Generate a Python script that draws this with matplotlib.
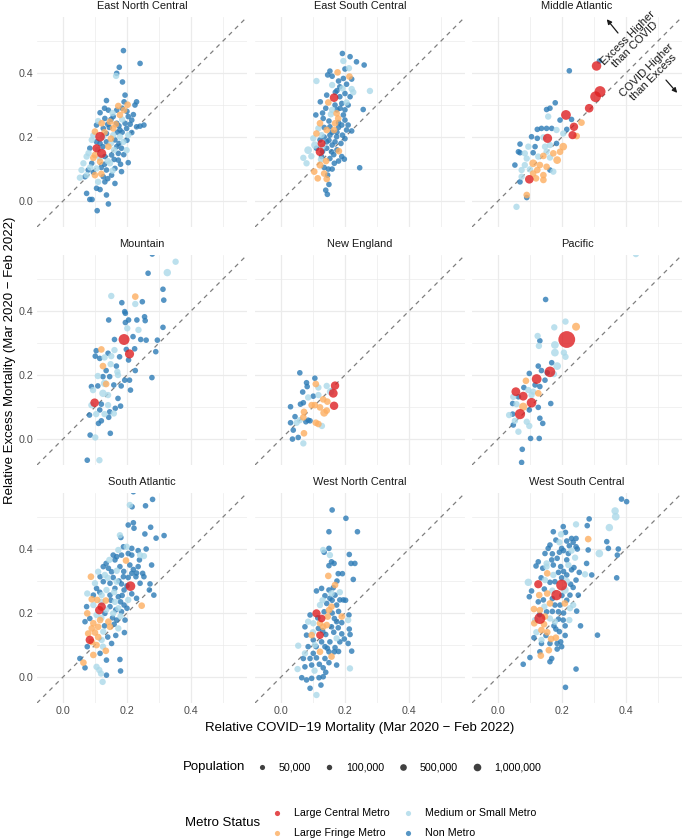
import matplotlib.pyplot as plt
import numpy as np

plt.rcParams['font.family'] = ['Liberation Sans', 'DejaVu Sans']

regions = ['East North Central', 'East South Central', 'Middle Atlantic',
           'Mountain', 'New England', 'Pacific',
           'South Atlantic', 'West North Central', 'West South Central']

metro_codes = ['C', 'F', 'S', 'N']
metro_names = {'C': 'Large Central Metro', 'F': 'Large Fringe Metro',
               'S': 'Medium or Small Metro', 'N': 'Non Metro'}
metro_colors = {'C': '#DE1F22', 'F': '#FDAE61', 'S': '#ABD9E9', 'N': '#2C7BB6'}
# population in thousands used when a point has no own value
default_pop = {'C': 800, 'F': 180, 'S': 120, 'N': 20}

legend_pops = [50000, 100000, 500000, 1000000]
legend_pop_labels = ['50,000', '100,000', '500,000', '1,000,000']

# (relative covid mortality, relative excess mortality, metro status[, population in thousands])
enc = [(0.189, 0.470, 'N'), (0.241, 0.430, 'N'), (0.176, 0.418, 'N'), (0.168, 0.399, 'N'),
       (0.166, 0.391, 'S'), (0.186, 0.372, 'N'), (0.194, 0.331, 'N'), (0.136, 0.314, 'N'),
       (0.191, 0.310, 'N'), (0.230, 0.310, 'N'), (0.225, 0.300, 'N'), (0.202, 0.301, 'F'),
       (0.173, 0.297, 'F'), (0.142, 0.284, 'N'), (0.168, 0.284, 'N'), (0.191, 0.284, 'F'),
       (0.116, 0.276, 'N'), (0.131, 0.258, 'N'), (0.157, 0.264, 'N'), (0.178, 0.269, 'F'),
       (0.204, 0.264, 'N'), (0.215, 0.253, 'N'), (0.121, 0.243, 'F'), (0.147, 0.248, 'F'),
       (0.168, 0.243, 'N'), (0.194, 0.243, 'N'), (0.105, 0.2375, 'N'), (0.126, 0.227, 'N'),
       (0.157, 0.227, 'F'), (0.178, 0.222, 'N'), (0.199, 0.227, 'N'), (0.241, 0.234, 'N'),
       (0.253, 0.2375, 'N'), (0.230, 0.232, 'N'), (0.215, 0.214, 'N'), (0.100, 0.217, 'F'),
       (0.136, 0.211, 'N'), (0.157, 0.206, 'S'), (0.178, 0.201, 'S'), (0.204, 0.206, 'S'),
       (0.090, 0.191, 'S'), (0.116, 0.180, 'N'), (0.136, 0.185, 'N'), (0.1625, 0.191, 'N'),
       (0.189, 0.185, 'S'), (0.084, 0.165, 'N'), (0.142, 0.170, 'F'), (0.168, 0.170, 'N'),
       (0.183, 0.165, 'N'), (0.100, 0.144, 'F'), (0.131, 0.139, 'N'), (0.152, 0.144, 'N'),
       (0.173, 0.149, 'N'), (0.199, 0.159, 'S'), (0.074, 0.139, 'S'), (0.064, 0.118, 'S'),
       (0.090, 0.118, 'N'), (0.116, 0.123, 'F'), (0.147, 0.118, 'S'), (0.173, 0.128, 'N'),
       (0.204, 0.120, 'N'), (0.058, 0.097, 'S'), (0.079, 0.097, 'N'), (0.105, 0.102, 'S'),
       (0.136, 0.097, 'N'), (0.1625, 0.102, 'N'), (0.074, 0.081, 'S'), (0.100, 0.081, 'F'),
       (0.126, 0.076, 'N'), (0.152, 0.081, 'N'), (0.053, 0.073, 'S'), (0.069, 0.076, 'N'),
       (0.110, 0.060, 'S'), (0.131, 0.060, 'N'), (0.1625, 0.055, 'N'), (0.183, 0.092, 'N'),
       (0.105, 0.040, 'N'), (0.116, 0.036, 'N'), (0.136, 0.019, 'N'), (0.074, 0.024, 'N'),
       (0.084, 0.005, 'N'), (0.091, 0.005, 'N'), (0.107, -0.030, 'N'), (0.142, -0.009, 'N'),
       (0.150, 0.255, 'N'), (0.185, 0.255, 'S'), (0.125, 0.200, 'S'), (0.150, 0.195, 'F'),
       (0.170, 0.215, 'N'), (0.110, 0.160, 'S'), (0.160, 0.160, 'S'), (0.140, 0.125, 'S'),
       (0.120, 0.105, 'N'), (0.095, 0.135, 'F'), (0.180, 0.115, 'N'), (0.145, 0.230, 'N'),
       (0.130, 0.290, 'N'), (0.155, 0.275, 'S'), (0.185, 0.290, 'N'), (0.110, 0.250, 'S'),
       (0.140, 0.240, 'N'), (0.175, 0.235, 'N'), (0.210, 0.240, 'N'), (0.095, 0.205, 'S'),
       (0.130, 0.215, 'F'), (0.185, 0.215, 'N'), (0.200, 0.190, 'N'), (0.105, 0.185, 'N'),
       (0.150, 0.180, 'S'), (0.175, 0.180, 'N'), (0.125, 0.170, 'N'), (0.190, 0.145, 'N'),
       (0.080, 0.150, 'S'), (0.115, 0.135, 'S'), (0.160, 0.130, 'N'), (0.085, 0.105, 'S'),
       (0.130, 0.115, 'N'), (0.155, 0.095, 'S'), (0.095, 0.090, 'N'), (0.140, 0.070, 'N'),
       (0.120, 0.085, 'F'), (0.165, 0.240, 'F'), (0.200, 0.280, 'N'), (0.220, 0.270, 'N'),
       (0.116, 0.201, 'C', 1500), (0.105, 0.165, 'C', 700), (0.121, 0.149, 'C', 1200)]

esc = [(0.192, 0.461, 'N'), (0.216, 0.451, 'N'), (0.195, 0.4375, 'S'), (0.236, 0.435, 'N'),
       (0.260, 0.425, 'N'), (0.153, 0.406, 'N'), (0.177, 0.402, 'F'), (0.200, 0.4125, 'N'),
       (0.2125, 0.415, 'S'), (0.146, 0.394, 'N'), (0.214, 0.389, 'F'), (0.195, 0.383, 'N'),
       (0.221, 0.381, 'N'), (0.111, 0.375, 'S'), (0.160, 0.3625, 'S'), (0.184, 0.357, 'N'),
       (0.192, 0.352, 'S'), (0.221, 0.350, 'S'), (0.226, 0.340, 'S'), (0.278, 0.344, 'S'),
       (0.200, 0.336, 'N'), (0.143, 0.331, 'N'), (0.184, 0.326, 'N'), (0.216, 0.326, 'N'),
       (0.123, 0.310, 'N'), (0.148, 0.308, 'F'), (0.169, 0.300, 'N'), (0.190, 0.305, 'N'),
       (0.205, 0.308, 'S'), (0.257, 0.286, 'N'), (0.140, 0.290, 'N'), (0.174, 0.274, 'F'),
       (0.109, 0.269, 'N'), (0.156, 0.271, 'S'), (0.195, 0.269, 'N'), (0.132, 0.258, 'N'),
       (0.179, 0.258, 'F'), (0.200, 0.253, 'N'), (0.122, 0.243, 'F'), (0.169, 0.243, 'F'),
       (0.153, 0.232, 'N'), (0.190, 0.2375, 'N'), (0.210, 0.2375, 'N'), (0.117, 0.227, 'S'),
       (0.143, 0.222, 'F'), (0.166, 0.222, 'F'), (0.205, 0.222, 'N'), (0.221, 0.219, 'N'),
       (0.111, 0.211, 'F'), (0.127, 0.206, 'S'), (0.153, 0.206, 'N'), (0.174, 0.201, 'N'),
       (0.192, 0.206, 'N'), (0.101, 0.196, 'S'), (0.122, 0.191, 'N'), (0.143, 0.185, 'N'),
       (0.169, 0.185, 'N'), (0.1875, 0.180, 'N'), (0.111, 0.165, 'N'), (0.143, 0.165, 'N'),
       (0.158, 0.154, 'N'), (0.181, 0.156, 'F'), (0.070, 0.135, 'S'), (0.127, 0.139, 'N'),
       (0.153, 0.133, 'N'), (0.190, 0.139, 'N'), (0.198, 0.131, 'N'), (0.080, 0.118, 'S'),
       (0.141, 0.125, 'F'), (0.1667, 0.118, 'N'), (0.104, 0.092, 'F'), (0.135, 0.086, 'F'),
       (0.148, 0.100, 'N'), (0.146, 0.081, 'N'), (0.115, 0.071, 'F'), (0.143, 0.069, 'F'),
       (0.246, 0.104, 'N'), (0.150, 0.052, 'N'), (0.140, 0.034, 'N'), (0.145, 0.021, 'N'),
       (0.175, 0.285, 'N'), (0.160, 0.215, 'N'), (0.180, 0.230, 'N'), (0.135, 0.200, 'N'),
       (0.160, 0.175, 'N'), (0.175, 0.160, 'N'), (0.130, 0.155, 'N'), (0.175, 0.345, 'N'),
       (0.160, 0.390, 'N'), (0.180, 0.375, 'N'), (0.205, 0.365, 'N'), (0.170, 0.340, 'N'),
       (0.210, 0.300, 'N'), (0.185, 0.290, 'N'), (0.160, 0.285, 'S'), (0.130, 0.275, 'N'),
       (0.200, 0.285, 'N'), (0.150, 0.250, 'N'), (0.180, 0.245, 'N'), (0.135, 0.230, 'N'),
       (0.175, 0.215, 'N'), (0.200, 0.195, 'N'), (0.150, 0.190, 'N'), (0.130, 0.170, 'S'),
       (0.165, 0.145, 'N'), (0.180, 0.125, 'N'), (0.135, 0.105, 'N'), (0.160, 0.100, 'N'),
       (0.125, 0.130, 'S'), (0.095, 0.140, 'S'),
       (0.106, 0.175, 'S', 400), (0.085, 0.159, 'S', 500), (0.122, 0.1125, 'F', 300),
       (0.166, 0.323, 'C', 900), (0.127, 0.180, 'C', 600), (0.122, 0.154, 'C', 900)]

mid_atlantic = [(0.317, 0.4375, 'N'), (0.223, 0.407, 'N'), (0.179, 0.307, 'N'), (0.1625, 0.290, 'N'),
                (0.152, 0.286, 'N'), (0.157, 0.264, 'S'), (0.194, 0.253, 'N'), (0.230, 0.255, 'N'),
                (0.261, 0.245, 'F'), (0.168, 0.227, 'N'), (0.152, 0.227, 'N'), (0.136, 0.227, 'N'),
                (0.123, 0.224, 'N'), (0.183, 0.222, 'S'), (0.215, 0.224, 'N'), (0.204, 0.211, 'S'),
                (0.246, 0.203, 'F'), (0.105, 0.201, 'N'), (0.123, 0.196, 'N'), (0.142, 0.199, 'S'),
                (0.069, 0.178, 'N'), (0.095, 0.170, 'S'), (0.116, 0.170, 'N'), (0.183, 0.180, 'N'),
                (0.1625, 0.175, 'S'), (0.147, 0.170, 'S'), (0.064, 0.154, 'N'), (0.069, 0.151, 'N'),
                (0.084, 0.149, 'S'), (0.110, 0.151, 'N'), (0.152, 0.154, 'S'), (0.173, 0.149, 'F'),
                (0.194, 0.154, 'F'), (0.090, 0.133, 'S'), (0.126, 0.139, 'S'), (0.142, 0.141, 'F'),
                (0.1625, 0.136, 'S'), (0.053, 0.1125, 'N'), (0.084, 0.1125, 'S'), (0.131, 0.1125, 'F'),
                (0.152, 0.107, 'F'), (0.074, 0.097, 'S'), (0.100, 0.099, 'S'), (0.123, 0.097, 'F'),
                (0.1625, 0.097, 'N'), (0.173, 0.092, 'S'), (0.074, 0.076, 'S'), (0.110, 0.086, 'F'),
                (0.142, 0.081, 'F'), (0.119, 0.071, 'F'), (0.142, 0.066, 'F'), (0.069, 0.060, 'N'),
                (0.090, 0.019, 'F'), (0.090, 0.011, 'N'), (0.058, -0.018, 'S'),
                (0.204, 0.170, 'F', 500), (0.185, 0.128, 'F', 500), (0.110, 0.118, 'F', 500),
                (0.308, 0.422, 'C', 1400), (0.319, 0.342, 'C', 2500), (0.305, 0.326, 'C', 2300),
                (0.285, 0.290, 'C', 900), (0.2125, 0.269, 'C', 1600), (0.2375, 0.232, 'C', 800),
                (0.233, 0.206, 'C', 700), (0.155, 0.196, 'C', 1200), (0.098, 0.068, 'C', 900)]

mountain = [(0.279, 0.578, 'N'), (0.352, 0.554, 'S'), (0.266, 0.518, 'N'), (0.3125, 0.468, 'N'),
            (0.315, 0.434, 'N'), (0.151, 0.447, 'S'), (0.226, 0.445, 'F'), (0.226, 0.422, 'S'),
            (0.248, 0.429, 'N'), (0.184, 0.426, 'N'), (0.193, 0.398, 'N'), (0.195, 0.393, 'N'),
            (0.143, 0.372, 'N'), (0.195, 0.364, 'N'), (0.205, 0.372, 'N'), (0.231, 0.372, 'N'),
            (0.255, 0.382, 'N'), (0.257, 0.370, 'N'), (0.201, 0.346, 'S'), (0.236, 0.341, 'S'),
            (0.3125, 0.349, 'N'), (0.161, 0.311, 'N'), (0.219, 0.320, 'N'), (0.243, 0.311, 'N'),
            (0.260, 0.309, 'N'), (0.295, 0.309, 'N'), (0.120, 0.280, 'F'), (0.104, 0.276, 'N'),
            (0.141, 0.268, 'N'), (0.161, 0.278, 'S'), (0.224, 0.282, 'N'), (0.198, 0.280, 'N'),
            (0.290, 0.273, 'N'), (0.101, 0.259, 'N'), (0.115, 0.252, 'N'), (0.130, 0.255, 'S'),
            (0.151, 0.259, 'S'), (0.177, 0.257, 'N'), (0.125, 0.228, 'F'), (0.149, 0.234, 'S'),
            (0.167, 0.228, 'N'), (0.205, 0.247, 'N'), (0.135, 0.214, 'N'), (0.170, 0.210, 'S'),
            (0.226, 0.214, 'N'), (0.109, 0.197, 'S'), (0.125, 0.195, 'N'), (0.146, 0.195, 'N'),
            (0.172, 0.200, 'S'), (0.193, 0.184, 'N'), (0.278, 0.192, 'N'), (0.135, 0.172, 'F'),
            (0.089, 0.164, 'N'), (0.109, 0.166, 'N'), (0.159, 0.169, 'N'), (0.182, 0.166, 'N'),
            (0.208, 0.184, 'N'), (0.211, 0.153, 'N'), (0.141, 0.1375, 'S'), (0.172, 0.127, 'N'),
            (0.094, 0.153, 'S'), (0.089, 0.106, 'S'), (0.120, 0.109, 'N'), (0.141, 0.106, 'S'),
            (0.1635, 0.096, 'N'), (0.180, 0.103, 'N'), (0.115, 0.091, 'N'), (0.130, 0.078, 'S'),
            (0.146, 0.085, 'N'), (0.159, 0.080, 'S'), (0.083, 0.075, 'N'), (0.104, 0.078, 'S'),
            (0.143, 0.068, 'N'), (0.111, 0.049, 'N'), (0.120, 0.057, 'N'), (0.085, 0.0125, 'N'),
            (0.101, 0.005, 'S'), (0.148, 0.018, 'N'), (0.076, -0.066, 'N'), (0.114, -0.066, 'S'),
            (0.326, 0.520, 'S', 400), (0.130, 0.174, 'S', 400), (0.125, 0.143, 'S', 400),
            (0.191, 0.311, 'C', 2500), (0.208, 0.266, 'C', 1200), (0.099, 0.1135, 'C', 900)]

new_england = [(0.059, 0.207, 'N'), (0.106, 0.190, 'N'), (0.080, 0.176, 'N'), (0.109, 0.172, 'F'),
               (0.082, 0.164, 'N'), (0.143, 0.166, 'S'), (0.117, 0.161, 'S'), (0.068, 0.147, 'N'),
               (0.101, 0.134, 'N'), (0.117, 0.1375, 'S'), (0.085, 0.130, 'S'), (0.132, 0.124, 'F'),
               (0.145, 0.117, 'F'), (0.070, 0.1135, 'N'), (0.061, 0.109, 'N'), (0.096, 0.106, 'F'),
               (0.106, 0.106, 'F'), (0.030, 0.101, 'N'), (0.122, 0.099, 'F'), (0.143, 0.089, 'F'),
               (0.072, 0.085, 'F'), (0.044, 0.070, 'N'), (0.070, 0.068, 'F'), (0.059, 0.059, 'S'),
               (0.085, 0.059, 'N'), (0.078, 0.054, 'N'), (0.091, 0.057, 'N'), (0.030, 0.051, 'N'),
               (0.049, 0.051, 'S'), (0.109, 0.051, 'F'), (0.117, 0.047, 'F'), (0.128, 0.041, 'S'),
               (0.0385, 0.028, 'N'), (0.072, 0.018, 'F'), (0.036, 0.000, 'N'), (0.054, 0.005, 'N'),
               (0.070, -0.0135, 'S'),
               (0.155, 0.148, 'S', 400), (0.135, 0.082, 'F', 500),
               (0.169, 0.167, 'C', 800), (0.1635, 0.143, 'C', 1000), (0.166, 0.104, 'C', 800)]

pacific = [(0.431, 0.578, 'S'), (0.149, 0.436, 'N'), (0.211, 0.367, 'S'), (0.176, 0.349, 'S'),
           (0.124, 0.322, 'S'), (0.131, 0.307, 'N'), (0.128, 0.291, 'S'), (0.206, 0.270, 'S'),
           (0.211, 0.257, 'S'), (0.168, 0.2385, 'N'), (0.126, 0.228, 'N'), (0.136, 0.214, 'N'),
           (0.154, 0.207, 'N'), (0.175, 0.203, 'S'), (0.098, 0.205, 'N'), (0.147, 0.184, 'N'),
           (0.0875, 0.182, 'F'), (0.116, 0.169, 'N'), (0.131, 0.164, 'N'), (0.081, 0.161, 'N'),
           (0.095, 0.153, 'S'), (0.110, 0.148, 'S'), (0.105, 0.1375, 'S'), (0.126, 0.143, 'F'),
           (0.048, 0.132, 'S'), (0.064, 0.132, 'N'), (0.046, 0.111, 'N'), (0.058, 0.109, 'S'),
           (0.165, 0.111, 'N'), (0.098, 0.091, 'N'), (0.126, 0.099, 'N'), (0.035, 0.075, 'S'),
           (0.046, 0.078, 'N'), (0.131, 0.065, 'N'), (0.053, 0.057, 'S'), (0.090, 0.054, 'S'),
           (0.140, 0.049, 'N'), (0.048, 0.044, 'N'), (0.098, 0.041, 'S'), (0.064, 0.023, 'S'),
           (0.102, 0.002, 'N'), (0.129, 0.002, 'N'), (0.076, -0.032, 'N'), (0.074, -0.073, 'N'),
           (0.178, 0.294, 'S', 500), (0.178, 0.270, 'S', 500), (0.185, 0.228, 'S', 500),
           (0.244, 0.351, 'F', 600), (0.079, 0.101, 'F', 700),
           (0.215, 0.311, 'C', 10000), (0.1625, 0.210, 'C', 2200), (0.121, 0.1875, 'C', 1600),
           (0.056, 0.148, 'C', 1000), (0.079, 0.134, 'C', 1000), (0.105, 0.1135, 'C', 1500),
           (0.069, 0.078, 'C', 1900)]

south_atlantic = [(0.220, 0.579, 'N'), (0.280, 0.555, 'N'), (0.209, 0.5375, 'S'), (0.216, 0.532, 'N'),
                  (0.258, 0.535, 'N'), (0.220, 0.482, 'N'), (0.204, 0.475, 'N'), (0.222, 0.465, 'N'),
                  (0.274, 0.468, 'N'), (0.256, 0.447, 'N'), (0.291, 0.434, 'N'), (0.316, 0.442, 'N'),
                  (0.178, 0.443, 'S'), (0.181, 0.436, 'N'), (0.189, 0.407, 'N'), (0.199, 0.407, 'S'),
                  (0.215, 0.402, 'N'), (0.173, 0.397, 'S'), (0.241, 0.381, 'S'), (0.253, 0.378, 'S'),
                  (0.239, 0.366, 'N'), (0.277, 0.350, 'N'), (0.157, 0.381, 'N'), (0.168, 0.376, 'N'),
                  (0.183, 0.381, 'N'), (0.204, 0.386, 'N'), (0.215, 0.381, 'N'), (0.145, 0.366, 'S'),
                  (0.1625, 0.366, 'N'), (0.197, 0.364, 'F'), (0.209, 0.350, 'N'), (0.126, 0.345, 'N'),
                  (0.142, 0.340, 'N'), (0.178, 0.345, 'N'), (0.220, 0.336, 'N'), (0.235, 0.345, 'N'),
                  (0.110, 0.329, 'S'), (0.152, 0.329, 'N'), (0.168, 0.332, 'S'), (0.215, 0.324, 'N'),
                  (0.249, 0.324, 'N'), (0.0875, 0.3135, 'F'), (0.116, 0.3135, 'N'), (0.131, 0.319, 'S'),
                  (0.157, 0.311, 'N'), (0.189, 0.3135, 'N'), (0.204, 0.311, 'N'), (0.228, 0.3135, 'N'),
                  (0.253, 0.3135, 'N'), (0.100, 0.293, 'S'), (0.126, 0.298, 'N'), (0.147, 0.293, 'N'),
                  (0.168, 0.298, 'S'), (0.183, 0.291, 'N'), (0.241, 0.293, 'N'), (0.272, 0.291, 'N'),
                  (0.270, 0.272, 'N'), (0.284, 0.256, 'N'), (0.105, 0.277, 'N'), (0.136, 0.272, 'S'),
                  (0.1625, 0.277, 'N'), (0.191, 0.272, 'N'), (0.076, 0.261, 'S'), (0.095, 0.256, 'N'),
                  (0.121, 0.256, 'S'), (0.147, 0.256, 'N'), (0.173, 0.251, 'N'), (0.230, 0.246, 'N'),
                  (0.204, 0.241, 'S'), (0.090, 0.243, 'F'), (0.107, 0.241, 'F'), (0.134, 0.239, 'F'),
                  (0.1625, 0.235, 'S'), (0.246, 0.223, 'F'), (0.074, 0.220, 'N'), (0.095, 0.225, 'S'),
                  (0.147, 0.220, 'N'), (0.173, 0.215, 'S'), (0.191, 0.225, 'N'), (0.076, 0.199, 'F'),
                  (0.105, 0.194, 'S'), (0.131, 0.199, 'N'), (0.157, 0.199, 'S'), (0.183, 0.204, 'N'),
                  (0.069, 0.173, 'N'), (0.084, 0.183, 'N'), (0.095, 0.168, 'F'), (0.116, 0.178, 'F'),
                  (0.142, 0.173, 'F'), (0.168, 0.178, 'N'), (0.194, 0.178, 'N'), (0.090, 0.152, 'F'),
                  (0.110, 0.157, 'F'), (0.147, 0.157, 'F'), (0.173, 0.152, 'S'), (0.079, 0.136, 'F'),
                  (0.100, 0.139, 'F'), (0.126, 0.142, 'S'), (0.192, 0.139, 'N'), (0.076, 0.095, 'N'),
                  (0.105, 0.100, 'F'), (0.121, 0.116, 'S'), (0.152, 0.105, 'N'), (0.095, 0.069, 'F'),
                  (0.116, 0.074, 'N'), (0.134, 0.082, 'F'), (0.136, 0.053, 'N'), (0.053, 0.058, 'N'),
                  (0.064, 0.045, 'F'), (0.069, 0.029, 'N'), (0.105, 0.032, 'S'), (0.1135, 0.022, 'S'),
                  (0.119, 0.011, 'S'), (0.178, 0.055, 'N'), (0.180, 0.019, 'N'), (0.136, 0.006, 'N'),
                  (0.124, -0.015, 'S'),
                  (0.135, 0.355, 'N'), (0.190, 0.330, 'N'), (0.230, 0.325, 'N'), (0.140, 0.310, 'S'),
                  (0.175, 0.300, 'N'), (0.200, 0.285, 'N'), (0.115, 0.265, 'N'), (0.160, 0.265, 'S'),
                  (0.185, 0.255, 'N'), (0.215, 0.260, 'N'), (0.120, 0.235, 'S'), (0.150, 0.240, 'N'),
                  (0.180, 0.235, 'N'), (0.135, 0.210, 'S'), (0.165, 0.210, 'N'), (0.200, 0.215, 'N'),
                  (0.120, 0.185, 'S'), (0.155, 0.185, 'N'), (0.180, 0.190, 'S'), (0.130, 0.160, 'N'),
                  (0.160, 0.165, 'N'), (0.110, 0.125, 'F'), (0.140, 0.125, 'N'), (0.165, 0.130, 'N'),
                  (0.090, 0.110, 'F'), (0.125, 0.095, 'S'), (0.235, 0.395, 'N'), (0.260, 0.400, 'N'),
                  (0.211, 0.284, 'C', 1500), (0.121, 0.220, 'C'), (0.1135, 0.209, 'C'),
                  (0.084, 0.116, 'C')]

west_north_central = [(0.160, 0.522, 'N'), (0.203, 0.496, 'N'), (0.150, 0.454, 'N'), (0.239, 0.454, 'N'),
                      (0.150, 0.402, 'N'), (0.135, 0.390, 'N'), (0.132, 0.397, 'S'), (0.153, 0.381, 'S'),
                      (0.2135, 0.383, 'N'), (0.158, 0.360, 'N'), (0.166, 0.355, 'N'), (0.150, 0.348, 'N'),
                      (0.219, 0.355, 'N'), (0.231, 0.355, 'N'), (0.179, 0.323, 'N'), (0.192, 0.323, 'N'),
                      (0.148, 0.316, 'F'), (0.226, 0.305, 'N'), (0.169, 0.2875, 'F'), (0.1635, 0.279, 'N'),
                      (0.111, 0.269, 'N'), (0.127, 0.277, 'N'), (0.150, 0.272, 'N'), (0.158, 0.261, 'S'),
                      (0.184, 0.265, 'S'), (0.1375, 0.254, 'N'), (0.169, 0.256, 'N'), (0.153, 0.246, 'N'),
                      (0.184, 0.241, 'N'), (0.195, 0.241, 'N'), (0.202, 0.240, 'N'), (0.122, 0.225, 'S'),
                      (0.143, 0.230, 'N'), (0.158, 0.220, 'F'), (0.174, 0.225, 'N'), (0.091, 0.194, 'N'),
                      (0.135, 0.204, 'N'), (0.150, 0.209, 'F'), (0.146, 0.189, 'F'), (0.167, 0.183, 'N'),
                      (0.190, 0.189, 'F'), (0.2125, 0.194, 'N'), (0.210, 0.178, 'S'), (0.085, 0.173, 'S'),
                      (0.101, 0.168, 'S'), (0.122, 0.168, 'F'), (0.143, 0.1625, 'F'), (0.174, 0.173, 'N'),
                      (0.075, 0.157, 'N'), (0.117, 0.152, 'N'), (0.132, 0.157, 'F'), (0.158, 0.157, 'N'),
                      (0.179, 0.154, 'N'), (0.2135, 0.150, 'N'), (0.216, 0.133, 'N'), (0.080, 0.131, 'N'),
                      (0.096, 0.131, 'F'), (0.140, 0.133, 'N'), (0.174, 0.121, 'S'), (0.198, 0.119, 'N'),
                      (0.101, 0.116, 'N'), (0.127, 0.110, 'N'), (0.153, 0.110, 'N'), (0.184, 0.110, 'N'),
                      (0.210, 0.105, 'N'), (0.054, 0.098, 'S'), (0.085, 0.095, 'N'), (0.106, 0.100, 'S'),
                      (0.1375, 0.095, 'N'), (0.169, 0.092, 'N'), (0.221, 0.081, 'N'), (0.075, 0.074, 'S'),
                      (0.101, 0.074, 'N'), (0.122, 0.079, 'F'), (0.150, 0.079, 'N'), (0.1667, 0.079, 'N'),
                      (0.070, 0.058, 'N'), (0.091, 0.058, 'N'), (0.111, 0.060, 'N'), (0.1375, 0.058, 'N'),
                      (0.158, 0.064, 'F'), (0.052, 0.025, 'S'), (0.075, 0.032, 'N'), (0.096, 0.0375, 'N'),
                      (0.132, 0.029, 'N'), (0.174, 0.0375, 'N'), (0.2156, 0.027, 'S'), (0.065, -0.002, 'N'),
                      (0.080, -0.009, 'N'), (0.096, -0.004, 'N'), (0.119, -0.002, 'N'), (0.132, 0.001, 'N'),
                      (0.091, -0.035, 'N'), (0.125, -0.025, 'N'), (0.111, -0.056, 'S'),
                      (0.115, 0.185, 'N'), (0.160, 0.200, 'N'), (0.180, 0.205, 'N'), (0.130, 0.145, 'N'),
                      (0.165, 0.140, 'N'), (0.190, 0.135, 'N'), (0.110, 0.095, 'N'), (0.145, 0.090, 'N'),
                      (0.180, 0.080, 'N'), (0.120, 0.040, 'N'), (0.150, 0.045, 'N'), (0.105, 0.020, 'S'),
                      (0.140, 0.015, 'N'), (0.160, 0.240, 'N'), (0.130, 0.240, 'S'), (0.175, 0.300, 'N'),
                      (0.190, 0.170, 'N'), (0.100, 0.140, 'S'),
                      (0.111, 0.199, 'C', 700), (0.127, 0.183, 'C', 500), (0.122, 0.131, 'C', 500)]

west_south_central = [(0.386, 0.556, 'N'), (0.402, 0.548, 'N'), (0.285, 0.494, 'N'), (0.279, 0.473, 'N'),
                      (0.244, 0.477, 'S'), (0.204, 0.470, 'N'), (0.197, 0.446, 'S'), (0.173, 0.454, 'N'),
                      (0.211, 0.452, 'N'), (0.282, 0.431, 'F'), (0.181, 0.428, 'N'), (0.192, 0.421, 'S'),
                      (0.230, 0.433, 'N'), (0.244, 0.433, 'N'), (0.235, 0.421, 'N'), (0.215, 0.425, 'N'),
                      (0.340, 0.423, 'N'), (0.1625, 0.4125, 'N'), (0.157, 0.402, 'N'), (0.199, 0.402, 'N'),
                      (0.223, 0.410, 'N'), (0.244, 0.407, 'N'), (0.248, 0.400, 'N'), (0.282, 0.397, 'N'),
                      (0.345, 0.402, 'N'), (0.376, 0.400, 'N'), (0.147, 0.386, 'N'), (0.192, 0.390, 'N'),
                      (0.220, 0.386, 'N'), (0.373, 0.381, 'N'), (0.126, 0.360, 'N'), (0.152, 0.355, 'S'),
                      (0.168, 0.366, 'N'), (0.185, 0.371, 'N'), (0.215, 0.366, 'N'), (0.241, 0.373, 'S'),
                      (0.119, 0.347, 'N'), (0.152, 0.345, 'S'), (0.173, 0.350, 'N'), (0.196, 0.345, 'N'),
                      (0.220, 0.350, 'S'), (0.2375, 0.342, 'N'), (0.277, 0.355, 'N'), (0.154, 0.324, 'F'),
                      (0.173, 0.319, 'S'), (0.189, 0.327, 'N'), (0.199, 0.310, 'N'), (0.215, 0.319, 'N'),
                      (0.254, 0.327, 'N'), (0.272, 0.321, 'S'), (0.293, 0.319, 'N'), (0.371, 0.310, 'N'),
                      (0.105, 0.269, 'N'), (0.147, 0.303, 'S'), (0.1625, 0.296, 'N'), (0.178, 0.298, 'N'),
                      (0.227, 0.290, 'N'), (0.244, 0.303, 'N'), (0.098, 0.251, 'N'), (0.129, 0.256, 'F'),
                      (0.154, 0.261, 'F'), (0.225, 0.256, 'N'), (0.251, 0.256, 'N'), (0.126, 0.235, 'N'),
                      (0.142, 0.241, 'N'), (0.1625, 0.230, 'F'), (0.178, 0.225, 'N'), (0.194, 0.225, 'N'),
                      (0.209, 0.230, 'F'), (0.235, 0.225, 'S'), (0.1125, 0.2125, 'F'), (0.131, 0.209, 'F'),
                      (0.152, 0.204, 'N'), (0.189, 0.204, 'N'), (0.225, 0.215, 'S'), (0.246, 0.206, 'N'),
                      (0.116, 0.178, 'S'), (0.147, 0.189, 'F'), (0.1625, 0.183, 'S'), (0.1135, 0.168, 'F'),
                      (0.144, 0.165, 'F'), (0.178, 0.173, 'S'), (0.189, 0.181, 'N'), (0.204, 0.178, 'N'),
                      (0.223, 0.178, 'S'), (0.136, 0.147, 'F'), (0.154, 0.140, 'F'), (0.181, 0.150, 'N'),
                      (0.192, 0.142, 'N'), (0.258, 0.160, 'N'), (0.1125, 0.123, 'N'), (0.136, 0.116, 'S'),
                      (0.166, 0.119, 'F'), (0.181, 0.123, 'F'), (0.311, 0.131, 'N'), (0.136, 0.105, 'N'),
                      (0.1625, 0.105, 'N'), (0.196, 0.110, 'N'), (0.199, 0.095, 'N'), (0.159, 0.084, 'F'),
                      (0.131, 0.079, 'N'), (0.185, 0.0875, 'N'), (0.100, 0.061, 'N'), (0.134, 0.067, 'F'),
                      (0.1625, 0.048, 'N'), (0.168, 0.058, 'N'), (0.079, 0.040, 'N'), (0.244, 0.025, 'N'),
                      (0.211, -0.032, 'N'),
                      (0.170, 0.385, 'N'), (0.205, 0.395, 'N'), (0.230, 0.395, 'S'), (0.140, 0.340, 'N'),
                      (0.205, 0.330, 'N'), (0.230, 0.335, 'N'), (0.135, 0.310, 'N'), (0.215, 0.300, 'S'),
                      (0.235, 0.280, 'N'), (0.145, 0.275, 'N'), (0.170, 0.270, 'S'), (0.200, 0.255, 'N'),
                      (0.170, 0.245, 'N'), (0.215, 0.240, 'N'), (0.145, 0.220, 'S'), (0.170, 0.205, 'N'),
                      (0.205, 0.200, 'N'), (0.130, 0.195, 'N'), (0.175, 0.160, 'N'), (0.210, 0.160, 'N'),
                      (0.150, 0.130, 'N'), (0.210, 0.130, 'N'), (0.120, 0.140, 'S'), (0.185, 0.105, 'N'),
                      (0.366, 0.519, 'S', 400), (0.368, 0.501, 'S', 500), (0.348, 0.467, 'S', 400),
                      (0.3167, 0.386, 'S', 500), (0.095, 0.296, 'S', 400), (0.209, 0.272, 'S', 500),
                      (0.126, 0.290, 'C', 700), (0.199, 0.2875, 'C', 2500), (0.183, 0.256, 'C', 2000),
                      (0.131, 0.183, 'C', 2500)]

region_points = [enc, esc, mid_atlantic, mountain, new_england, pacific,
                 south_atlantic, west_north_central, west_south_central]


def marker_area(pop):
    # diameter grows with sqrt(population), like ggplot's area scale
    d_px = 5.1 + 0.0037 * np.sqrt(pop)
    return (d_px * 0.72) ** 2


W, H = 684, 840
fig = plt.figure(figsize=(W / 100, H / 100), dpi=100)

col_left = [37, 255, 472]
row_top = [17, 255, 493]
box = 210
lim = (-0.081, 0.575)
grid_col = '#EBEBEB'
tick_col = '#4D4D4D'

axes = []
for i, name in enumerate(regions):
    r, c = divmod(i, 3)
    ax = fig.add_axes([col_left[c] / W, 1 - (row_top[r] + box) / H, box / W, box / H])
    axes.append(ax)
    ax.set_xlim(lim)
    ax.set_ylim(lim)
    ax.set_xticks([0, 0.2, 0.4])
    ax.set_yticks([0, 0.2, 0.4])
    ax.set_xticks([0.1, 0.3, 0.5], minor=True)
    ax.set_yticks([0.1, 0.3, 0.5], minor=True)
    ax.set_xticklabels(['0.0', '0.2', '0.4'])
    ax.set_yticklabels(['0.0', '0.2', '0.4'])
    ax.grid(which='major', color=grid_col, lw=0.9)
    ax.grid(which='minor', color=grid_col, lw=0.5)
    ax.set_axisbelow(True)
    for s in ax.spines.values():
        s.set_visible(False)
    ax.tick_params(which='both', length=0, labelsize=7.7, labelcolor=tick_col)
    ax.tick_params(axis='y', pad=2.5)
    ax.tick_params(axis='x', pad=2.5)
    if c != 0:
        ax.tick_params(labelleft=False)
    if r != 2:
        ax.tick_params(labelbottom=False)

    ax.axline((0, 0), (1, 1), color='#7F7F7F', lw=0.9, ls=(0, (3.5, 3.5)), zorder=1)

    pts = region_points[i]
    for m in ['N', 'S', 'F', 'C']:
        sel = [p for p in pts if p[2] == m]
        if not sel:
            continue
        xs = [p[0] for p in sel]
        ys = [p[1] for p in sel]
        pops = [(p[3] if len(p) > 3 else default_pop[m]) * 1000 for p in sel]
        ax.scatter(xs, ys, s=marker_area(np.array(pops)), color=metro_colors[m],
                   alpha=0.8, linewidths=0, zorder=2)

    ax.text(0.5, 1 + 11 / box, name, transform=ax.transAxes, ha='center', va='center',
            fontsize=7.9, color='#1A1A1A')

# annotation in the Middle Atlantic panel
ma = axes[2]
ma.text(0.418, 0.498, 'Excess Higher\nthan COVID', rotation=45, rotation_mode='anchor',
        ha='center', va='center', multialignment='center', fontsize=8.0, color='#1A1A1A',
        linespacing=0.95, zorder=3)
ma.text(0.475, 0.398, 'COVID Higher\nthan Excess', rotation=45, rotation_mode='anchor',
        ha='center', va='center', multialignment='center', fontsize=8.0, color='#1A1A1A',
        linespacing=0.95, zorder=3)
ma.annotate('', xy=(0.34, 0.568), xytext=(0.375, 0.525),
            arrowprops=dict(arrowstyle='-|>', lw=0.9, color='#1A1A1A', mutation_scale=7,
                            shrinkA=0, shrinkB=0))
ma.annotate('', xy=(0.56, 0.338), xytext=(0.525, 0.378),
            arrowprops=dict(arrowstyle='-|>', lw=0.9, color='#1A1A1A', mutation_scale=7,
                            shrinkA=0, shrinkB=0))

fig.text(360 / W, 1 - 728 / H, 'Relative COVID\u221219 Mortality (Mar 2020 \u2212 Feb 2022)',
         ha='center', va='center', fontsize=9.5)
fig.text(10 / W, 1 - 360 / H, 'Relative Excess Mortality (Mar 2020 \u2212 Feb 2022)',
         ha='center', va='center', rotation=90, fontsize=9.5)

# legends drawn on an overlay in pixel units
lax = fig.add_axes([0, 0, 1, 1])
lax.set_xlim(0, W)
lax.set_ylim(H, 0)
lax.axis('off')

lax.text(183, 767, 'Population', ha='left', va='center', fontsize=9.5)
pop_key_x = [262, 329, 403, 477]
for kx, pv, lab in zip(pop_key_x, legend_pops, legend_pop_labels):
    lax.scatter([kx], [767], s=marker_area(pv) * 0.75, color='black', alpha=0.75, linewidths=0)
    lax.text(kx + 17, 767, lab, ha='left', va='center', fontsize=7.7)

lax.text(185, 823, 'Metro Status', ha='left', va='center', fontsize=9.5)
key_pos = {'C': (277, 813), 'F': (277, 833), 'S': (408, 813), 'N': (408, 833)}
for m in metro_codes:
    kx, ky = key_pos[m]
    lax.scatter([kx], [ky], s=marker_area(20000) * 0.85, color=metro_colors[m], alpha=0.8, linewidths=0)
    lax.text(kx + 17, ky, metro_names[m], ha='left', va='center', fontsize=7.7)

fig.savefig('out.png', dpi=100)
